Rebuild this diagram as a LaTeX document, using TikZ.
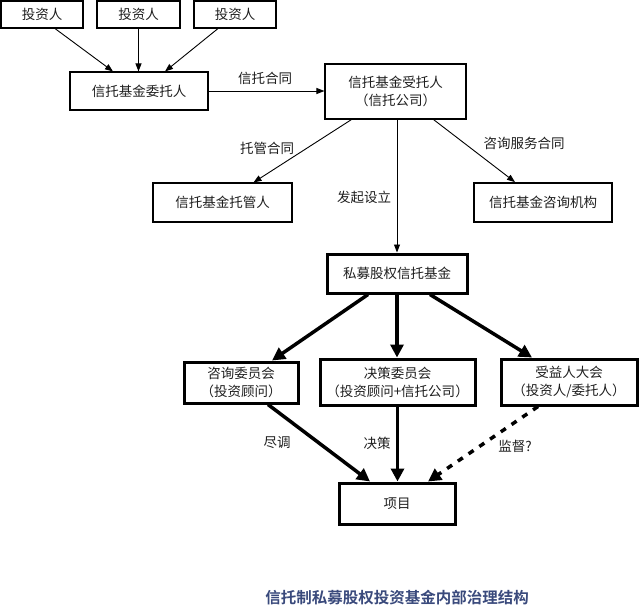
\documentclass[tikz,border=0pt]{standalone}
\usepackage{fontspec}
\setmainfont{Noto Sans CJK SC}
\newfontfamily\capfont{Noto Sans CJK SC}[BoldFont={Noto Sans CJK SC Bold}]
\usetikzlibrary{arrows.meta,calc}
\definecolor{captc}{HTML}{3A4A7C}
\definecolor{txt}{HTML}{1E1E1E}
\begin{document}
\begin{tikzpicture}[x=1pt,y=-1pt,
  every node/.style={font=\fontsize{13.5}{18}\selectfont, text=txt},
  thinbox/.style={draw, line width=1.1pt, rectangle, inner sep=0pt, align=center},
  thickbox/.style={draw, line width=3pt, rectangle, inner sep=0pt, align=center},
  thinarrow/.style={line width=0.9pt, -{Triangle[length=8pt,width=6pt]}},
  thickarrow/.style={line width=3.5pt, -{Triangle[length=13pt,width=13pt]}},
  lbl/.style={inner sep=0pt}
]
\useasboundingbox (0,0) rectangle (640,613);
% top
\node[thinbox, minimum width=82pt, minimum height=27pt] (i1) at (42,14.5) {投资人};
\node[thinbox, minimum width=83pt, minimum height=27pt] (i2) at (138.5,14.5) {投资人};
\node[thinbox, minimum width=82pt, minimum height=27pt] (i3) at (235,14.5) {投资人};
\node[thinbox, minimum width=138pt, minimum height=38pt] (wtr) at (139,91) {信托基金委托人};
\node[thinbox, minimum width=141pt, minimum height=55pt] (str) at (395.5,91.5) {信托基金受托人\\（信托公司）};
\node[thinbox, minimum width=139pt, minimum height=39pt] (tgr) at (222.5,202.5) {信托基金托管人};
\node[draw, line width=1.8pt, inner sep=0pt, minimum width=138pt, minimum height=39pt] (zx) at (543,202.5) {信托基金咨询机构};
\node[thickbox, minimum width=140pt, minimum height=39pt] (fund) at (397,273.5) {私募股权信托基金};
\node[thickbox, minimum width=114pt, minimum height=41pt] (zxw) at (241,382.5) {咨询委员会\\（投资顾问）};
\node[thickbox, minimum width=155pt, minimum height=46pt] (jcw) at (397.5,382) {决策委员会\\（投资顾问+信托公司）};
\node[thickbox, minimum width=136pt, minimum height=46pt] (syr) at (569,382) {受益人大会\\（投资人/委托人）};
\node[thickbox, minimum width=116pt, minimum height=41pt] (xm) at (397,503.5) {项目};

% thin arrows
\draw[thinarrow] ($(i1.south)+(13,0)$) -- ($(wtr.north)+(-26,0)$);
\draw[thinarrow] (i2.south) -- (i2.south |- wtr.north);
\draw[thinarrow] ($(i3.south)+(-17,0)$) -- ($(wtr.north)+(26,0)$);
\draw[thinarrow] (wtr.east) -- (wtr.east -| str.west);
\draw[thinarrow] ($(str.south)+(-44,0)$) -- ($(tgr.north)+(31,0)$);
\draw[thinarrow] ($(str.south)+(38,0)$) -- ($(zx.north)+(-28,0)$);
\draw[thinarrow] ($(str.south)+(1.5,0)$) -- (fund.north);

% thick arrows
\draw[thickarrow] ($(fund.south)+(-29,0)$) -- ($(zxw.north)+(31,0)$);
\draw[thickarrow] (fund.south) -- (fund.south |- jcw.north);
\draw[thickarrow] ($(fund.south)+(33,0)$) -- ($(syr.north)+(-37,0)$);
\draw[thickarrow] ($(zxw.south)+(27,0)$) -- ($(xm.north)+(-27,0)$);
\draw[thickarrow] (jcw.south) -- (jcw.south |- xm.north);
\draw[line width=3.5pt, dash pattern=on 6pt off 7pt, -{Triangle[length=13pt,width=13pt]}] ($(syr.south)+(-31,0)$) -- ($(xm.north)+(31,0)$);

% labels
\node[lbl] (l1) at (265,78) {信托合同};
\node[lbl] (l2) at (267,148) {托管合同};
\node[lbl] (l3) at (524,143) {咨询服务合同};
\node[lbl] (l4) at (364,197) {发起设立};
\node[lbl] (l5) at (277,443) {尽调};
\node[lbl] (l6) at (377,443) {决策};
\node[lbl] (l7) at (515,446) {监督?};

% caption
\node[font=\capfont\bfseries\fontsize{15.5}{18}\selectfont, text=captc] (cap) at (397,598) {信托制私募股权投资基金内部治理结构};
\end{tikzpicture}
\end{document}
